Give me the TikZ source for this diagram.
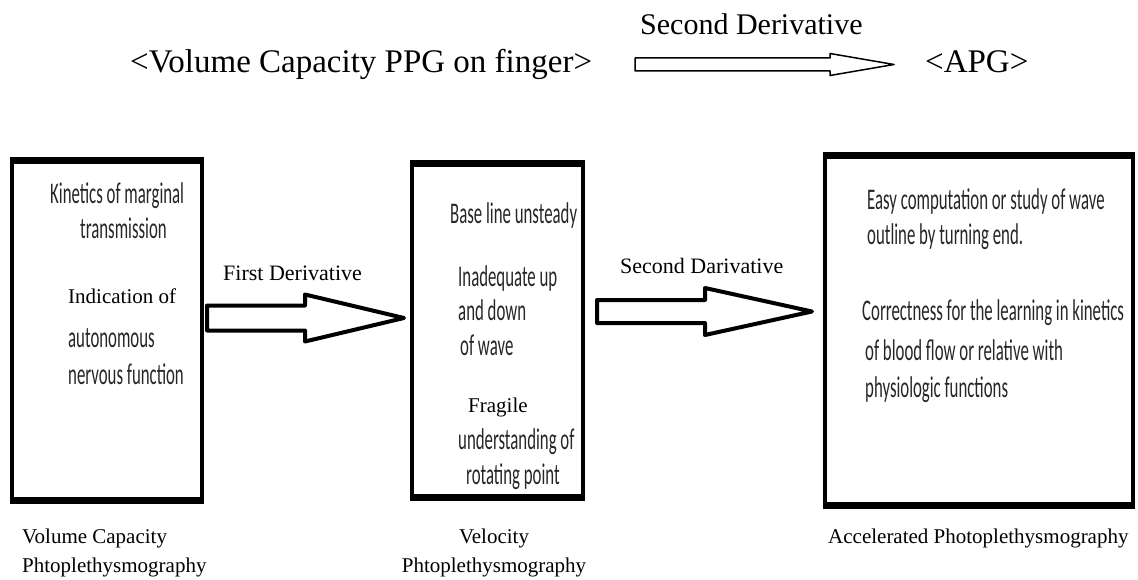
\documentclass[tikz,border=0pt]{standalone}
\usepackage{fontspec}
\setmainfont{Liberation Serif}
\newfontfamily\calib{Carlito}[FakeStretch=0.56]
\usetikzlibrary{calc}

\tikzset{
  ppgbox/.style={draw, line width=4pt, inner sep=0pt, outer sep=0pt},
  calline/.style={font=\calib\fontsize{30}{36}\selectfont, text=black!85,
    anchor=west, inner sep=0pt, text height=21pt, text depth=7pt},
  serline/.style={font=\fontsize{21}{25}\selectfont, anchor=west,
    inner sep=0pt, text height=15pt, text depth=5pt},
  caption/.style={font=\fontsize{21}{29}\selectfont, inner sep=0pt},
  headline/.style={font=\fontsize{33}{40}\selectfont, anchor=base west, inner sep=0pt}
}

% tail, tip, shaft half, head half, head length, line width
\newcommand\hollowarrow[6]{%
  \draw[line width=#6, line join=round, fill=white] let \p1=(#1), \p2=(#2) in
    (\x1,\y1+#3) -- (\x2-#5,\y1+#3) -- (\x2-#5,\y1+#4) -- (\x2,\y1) --
    (\x2-#5,\y1-#4) -- (\x2-#5,\y1-#3) -- (\x1,\y1-#3) -- cycle;}

\begin{document}
\begin{tikzpicture}[x=1pt, y=-1pt]

  \useasboundingbox (0,0) rectangle (1138,580);

  % top line
  \node[headline] (ppg) at (130,73) {<Volume Capacity PPG on finger>};
  \node[headline] (apg) at (925,73) {<APG>};
  \node[font=\fontsize{30}{36}\selectfont, anchor=base west, inner sep=0pt]
    (toplabel) at (640,35) {Second Derivative};
  \coordinate (top tail) at (635,64.5);
  \coordinate (top tip) at (894,64.5);
  \hollowarrow{top tail}{top tip}{6.5pt}{11pt}{64pt}{1.5pt}

  % the three boxes
  \node[ppgbox, minimum width=190pt, minimum height=339pt] (box1) at (107,330.5) {};
  \node[ppgbox, minimum width=171pt, minimum height=333pt] (box2) at (497.5,330.5) {};
  \node[ppgbox, minimum width=308pt, minimum height=349pt] (box3) at (979,330.5) {};
  \foreach \b in {box1,box2,box3} {
    \draw[line width=7pt] ([xshift=-2pt]\b.north west) -- ([xshift=2pt]\b.north east);
    \draw[line width=7pt] ([xshift=-2pt]\b.south west) -- ([xshift=2pt]\b.south east);
  }

  % box 1
  \node[calline] (k1) at (50,197) {Kinetics of marginal};
  \node[calline] (k2) at (80,232) {transmission};
  \node[serline] (k3) at (68,298) {Indication of};
  \node[calline] (k4) at (68,340) {autonomous};
  \node[calline] (k5) at (68,377) {nervous function};

  % box 2
  \node[calline] (v1) at (450,217) {Base line unsteady};
  \node[calline] (v2) at (458,280) {Inadequate up};
  \node[calline] (v3) at (458,313) {and down};
  \node[calline] (v4) at (460,348) {of wave};
  \node[serline] (v5) at (468,407) {Fragile};
  \node[calline] (v6) at (458,442) {understanding of};
  \node[calline] (v7) at (466,477) {rotating point};

  % box 3
  \node[calline] (a1) at (867,203) {Easy computation or study of wave};
  \node[calline] (a2) at (867,237) {outline by turning end.};
  \node[calline] (a3) at (862,313) {Correctness for the learning in kinetics};
  \node[calline] (a4) at (865,353) {of blood flow or relative with};
  \node[calline] (a5) at (865,390) {physiologic functions};

  % derivative arrows
  \coordinate (fd tail) at ($(box1.east)+(5,-12.5)$);
  \coordinate (fd tip) at ($(box2.west |- fd tail)+(-8,0)$);
  \hollowarrow{fd tail}{fd tip}{12.5pt}{23.5pt}{99pt}{4pt}
  \node[serline, font=\fontsize{22}{26}\selectfont] (fd) at (223,275) {First Derivative};

  \coordinate (sd tail) at ($(box2.east)+(14,-19)$);
  \coordinate (sd tip) at ($(box3.west |- sd tail)+(-13,0)$);
  \hollowarrow{sd tail}{sd tip}{11.5pt}{23.5pt}{107pt}{4pt}
  \node[serline, font=\fontsize{22}{26}\selectfont] (sd) at (620,268) {Second Darivative};

  % captions
  \node[caption, anchor=base west, align=left] (c1) at (22,572)
    {Volume Capacity\\Phtoplethysmography};
  \node[caption, anchor=base, align=center] (c2) at (494,572)
    {Velocity\\Phtoplethysmography};
  \node[caption, anchor=base west] (c3) at (828,543) {Accelerated Photoplethysmography};

\end{tikzpicture}
\end{document}
